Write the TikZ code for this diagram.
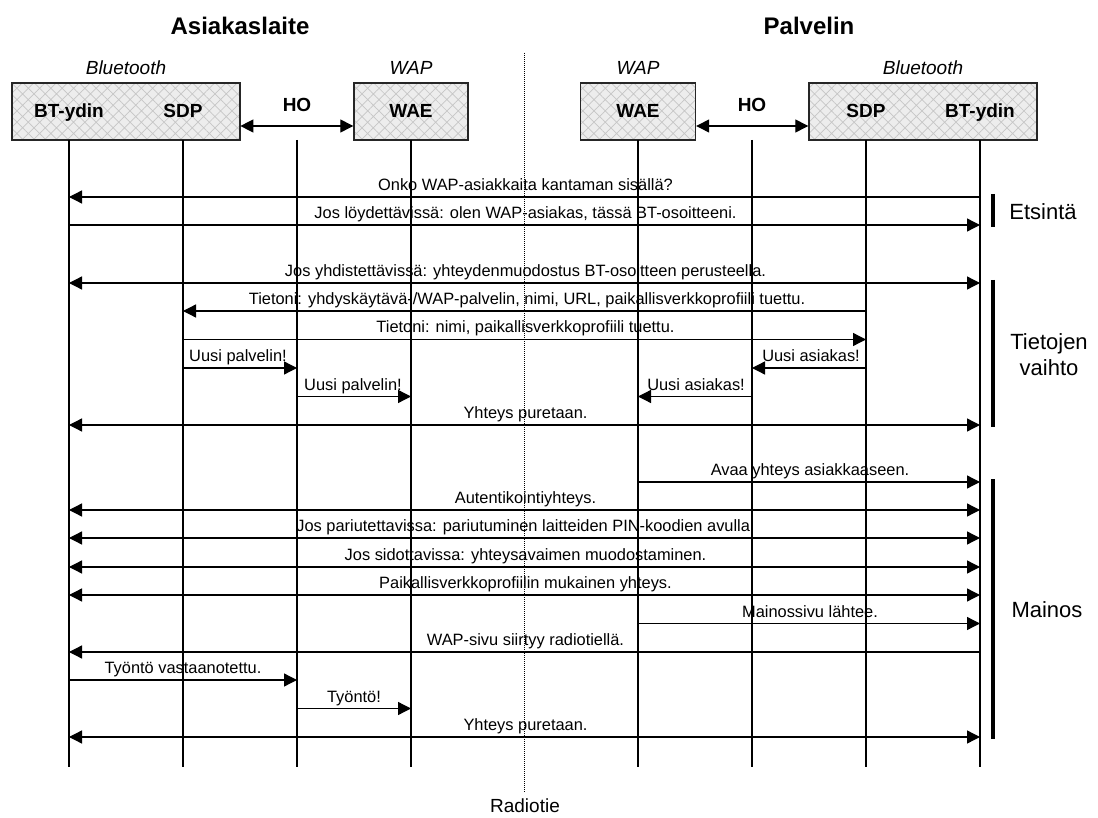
\documentclass[tikz,border=0pt]{standalone}
\usepackage{fontspec}
\setmainfont{Liberation Sans}
\usetikzlibrary{arrows.meta,patterns.meta}
\tikzset{
  box/.style={draw=black!85, line width=1.4pt, pattern={Hatch[angle=45,distance=8pt,line width=0.7pt]}, pattern color=gray!45, preaction={fill=gray!14}, inner sep=0pt},
  boxlbl/.style={font=\fontsize{19}{22}\selectfont\bfseries, inner sep=0pt, anchor=base},
  grouplbl/.style={font=\fontsize{19}{22}\selectfont\itshape, inner sep=0pt},
  titlelbl/.style={font=\fontsize{24}{28}\selectfont\bfseries, inner sep=0pt},
  sidelbl/.style={font=\fontsize{22}{26}\selectfont, inner sep=0pt, align=center},
  msglbl/.style={font=\fontsize{16.4}{19}\selectfont, inner sep=0pt},
  lifeline/.style={line width=1.3pt},
  msgone/.style={line width=1.3pt, -{Triangle[length=13pt,width=13pt]}},
  msgtwo/.style={line width=1.3pt, {Triangle[length=13pt,width=13pt]}-{Triangle[length=13pt,width=13pt]}},
  groupbar/.style={line width=4pt},
  radioline/.style={line width=0.8pt, dash pattern=on 1pt off 1pt}
}
\begin{document}
\begin{tikzpicture}[x=1pt,y=-1pt]
\path[use as bounding box] (0,0) rectangle (1098,818);

% titles
\node[titlelbl] (tA) at (240,26) {Asiakaslaite};
\node[titlelbl] (tB) at (809,26) {Palvelin};

% group labels
\node[grouplbl] (gA1) at (126,68) {Bluetooth};
\node[grouplbl] (gA2) at (411,68) {WAP};
\node[grouplbl] (gB1) at (638,68) {WAP};
\node[grouplbl] (gB2) at (923,68) {Bluetooth};

% boxes
\node[box, minimum width=228pt, minimum height=57pt] (btA) at (126,111.5) {};
\node[box, minimum width=114pt, minimum height=57pt] (waeA) at (411,111.5) {};
\node[box, minimum width=115pt, minimum height=57pt] (waeB) at (638,111.5) {};
\node[box, minimum width=228pt, minimum height=57pt] (btB) at (923,111.5) {};

\node[boxlbl] (coreA) at (69,118) {BT-ydin};
\node[boxlbl] (sdpA) at (183,118) {SDP};
\node[boxlbl] (waeAl) at (411,118) {WAE};
\node[boxlbl] (waeBl) at (638,118) {WAE};
\node[boxlbl] (sdpB) at (866,118) {SDP};
\node[boxlbl] (coreB) at (980,118) {BT-ydin};

% HO
\node[boxlbl] (hoA) at (297,112) {HO};
\node[boxlbl] (hoB) at (752,112) {HO};
\coordinate (hoy) at (0,126);
\draw[msgtwo] (btA.east |- hoy) -- (waeA.west |- hoy);
\draw[msgtwo] (waeB.east |- hoy) -- (btB.west |- hoy);

% lifelines
\foreach \n/\x in {a1/69,a2/183,a3/297,a4/411,b1/638,b2/752,b3/866,b4/980}{
  \coordinate (\n) at (\x,140);
  \coordinate (\n e) at (\x,767);
  \draw[lifeline] (\n) -- (\n e);
}

% radio line
\coordinate (rt) at (524,53);
\coordinate (rb) at (524,793);
\draw[radioline] (rt) -- (rb);
\node[font=\fontsize{19}{22}\selectfont, inner sep=0pt] (radio) at (525,806) {Radiotie};

% message rows
\foreach \r/\y in {r1/197,r2/225,r3/283,r4/311,r5/339.5,r6/368,r7/396.5,r8/425,r9/482,r10/510,r11/538,r12/567,r13/595,r14/623.5,r15/652,r16/680,r17/708.5,r18/737}{
  \coordinate (\r) at (0,\y);
}

\draw[msgone] (b4 |- r1) -- (a1 |- r1);
\node[msglbl, anchor=base] (m1) at (525.5,190.5) {Onko WAP-asiakkaita kantaman sisällä?};

\draw[msgone] (a1 |- r2) -- (b4 |- r2);
\node[msglbl, anchor=base] (m2) at (525.5,218.5) {Jos löydettävissä: olen WAP-asiakas, tässä BT-osoitteeni.};

\draw[msgtwo] (a1 |- r3) -- (b4 |- r3);
\node[msglbl, anchor=base] (m3) at (525.5,276.5) {Jos yhdistettävissä: yhteydenmuodostus BT-osoitteen perusteella.};

\draw[msgone] (b3 |- r4) -- (a2 |- r4);
\node[msglbl, anchor=base] (m4) at (527,304.5) {Tietoni: yhdyskäytävä-/WAP-palvelin, nimi, URL, paikallisverkkoprofiili tuettu.};

\draw[msgone] (a2 |- r5) -- (b3 |- r5);
\node[msglbl, anchor=base] (m5) at (525.5,333) {Tietoni: nimi, paikallisverkkoprofiili tuettu.};

\draw[msgone] (a2 |- r6) -- (a3 |- r6);
\node[msglbl, anchor=base west] (m6a) at (189,361.5) {Uusi palvelin!};
\draw[msgone] (b3 |- r6) -- (b2 |- r6);
\node[msglbl, anchor=base east] (m6b) at (860,361.5) {Uusi asiakas!};

\draw[msgone] (a3 |- r7) -- (a4 |- r7);
\node[msglbl, anchor=base west] (m7a) at (304,390) {Uusi palvelin!};
\draw[msgone] (b2 |- r7) -- (b1 |- r7);
\node[msglbl, anchor=base east] (m7b) at (745,390) {Uusi asiakas!};

\draw[msgtwo] (a1 |- r8) -- (b4 |- r8);
\node[msglbl, anchor=base] (m8) at (525.5,418.5) {Yhteys puretaan.};

\draw[msgone] (b1 |- r9) -- (b4 |- r9);
\node[msglbl, anchor=base] (m9) at (810,475.5) {Avaa yhteys asiakkaaseen.};

\draw[msgtwo] (a1 |- r10) -- (b4 |- r10);
\node[msglbl, anchor=base] (m10) at (525.5,503.5) {Autentikointiyhteys.};

\draw[msgtwo] (a1 |- r11) -- (b4 |- r11);
\node[msglbl, anchor=base] (m11) at (525.5,531.5) {Jos pariutettavissa: pariutuminen laitteiden PIN-koodien avulla.};

\draw[msgtwo] (a1 |- r12) -- (b4 |- r12);
\node[msglbl, anchor=base] (m12) at (525.5,560.5) {Jos sidottavissa: yhteysavaimen muodostaminen.};

\draw[msgtwo] (a1 |- r13) -- (b4 |- r13);
\node[msglbl, anchor=base] (m13) at (525.5,588.5) {Paikallisverkkoprofiilin mukainen yhteys.};

\draw[msgone] (b1 |- r14) -- (b4 |- r14);
\node[msglbl, anchor=base] (m14) at (810,617) {Mainossivu lähtee.};

\draw[msgone] (b4 |- r15) -- (a1 |- r15);
\node[msglbl, anchor=base] (m15) at (525.5,645.5) {WAP-sivu siirtyy radiotiellä.};

\draw[msgone] (a1 |- r16) -- (a3 |- r16);
\node[msglbl, anchor=base] (m16) at (183,673.5) {Työntö vastaanotettu.};

\draw[msgone] (a3 |- r17) -- (a4 |- r17);
\node[msglbl, anchor=base] (m17) at (354,702) {Työntö!};

\draw[msgtwo] (a1 |- r18) -- (b4 |- r18);
\node[msglbl, anchor=base] (m18) at (525.5,730.5) {Yhteys puretaan.};

% phase brackets
\coordinate (e1) at (993,194);
\coordinate (e2) at (993,227);
\draw[groupbar] (e1) -- (e2);
\node[sidelbl] (etsinta) at (1043,212) {Etsintä};

\coordinate (v1) at (993,280);
\coordinate (v2) at (993,427);
\draw[groupbar] (v1) -- (v2);
\node[sidelbl] (vaihto) at (1049,355) {Tietojen\\vaihto};

\coordinate (p1) at (993,479);
\coordinate (p2) at (993,739);
\draw[groupbar] (p1) -- (p2);
\node[sidelbl] (mainos) at (1047,610) {Mainos};
\end{tikzpicture}
\end{document}
